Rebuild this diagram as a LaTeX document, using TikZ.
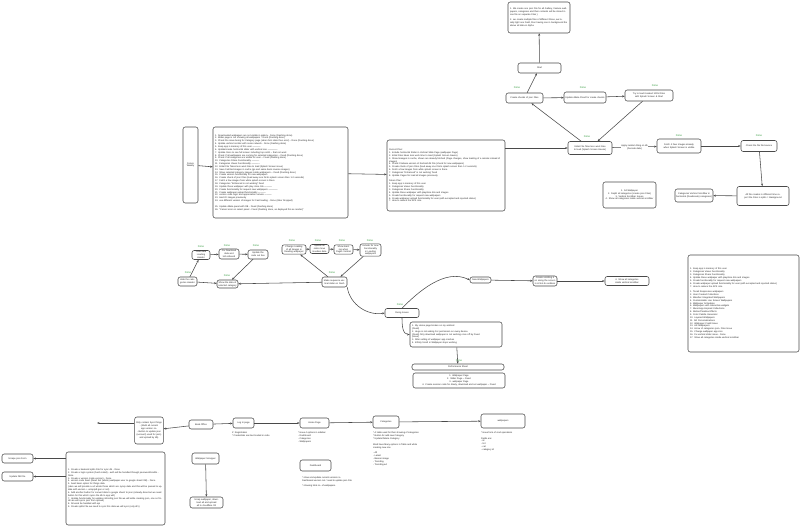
\documentclass[tikz,border=0pt]{standalone}
\usepackage{fontspec}
\setmainfont{Liberation Sans}
\usetikzlibrary{arrows.meta}
\newcommand\mytiny{\fontsize{2.3}{2.85}\selectfont}
\newcommand\mydone{\fontsize{2.6}{2.9}\selectfont}
\definecolor{dgreen}{HTML}{3A9E44}
\definecolor{lgray}{HTML}{4A4A4A}
\tikzset{
 bx/.style={draw=lgray, line width=0.55pt, rounded corners=2.2pt, fill=white, align=center, inner sep=0.8pt, font=\mytiny, text=black!85},
 tb/.style={align=left, inner sep=0pt, font=\mytiny, anchor=north west, text=black!85},
 done/.style={text=dgreen, font=\mydone, inner sep=0pt},
 arr/.style={draw=lgray, line width=0.55pt, -{Stealth[length=2.6pt,width=2pt]}},
}
\begin{document}
\begin{tikzpicture}[x=1pt,y=-1pt]
\useasboundingbox[fill=white] (0,0) rectangle (800,526);
% ---------------- top -----------------
\node[bx, minimum width=62pt, minimum height=31pt, text width=58pt, align=left] (note) at (539,17.5) {1. We create one json File for all Gallery, Feature wallpapers, categories and their contents will be stored in one file on separate Files )\\[2pt] 2. we create multiple files of different those, we locally light one Field, then having one in background the above all data in Alpha};
\node[bx, minimum width=43pt, minimum height=10pt] (start) at (539.5,68) {Start};
\node[bx, minimum width=37pt, minimum height=10pt, text width=35pt] (chunks) at (524.5,98) {Create chunks of json Files};
\node[done] at (517,88) {Done};
\node[bx, minimum width=42pt, minimum height=11pt, text width=40pt] (upd) at (585,97.5) {Update ddata Flood for create chunks};
\node[done] at (583,88) {Done};
\node[bx, minimum width=48pt, minimum height=11pt, text width=46pt] (try) at (649,95.5) {Try to load Kiosked 100M Files with Splash Screen \& Start};
\node[done] at (655,86) {Done};
\node[bx, minimum width=44pt, minimum height=13pt, text width=42pt] (init) at (590,148) {Initial File Take less work time to load (Splash Screen Gauze)};
\node[done] at (587,137) {Done};
\node[bx, minimum width=44pt, minimum height=14pt, text width=42pt] (fetch) at (679,146) {Fetch 4 Few Images already when Splash Screen is visible};
\node[done] at (679,136) {Done};
\node[bx, minimum width=36pt, minimum height=11pt, text width=34pt] (check) at (759,146) {Check the file file bounce};
\node[done] at (759,136) {Done};
\node[bx, minimum width=52pt, minimum height=19pt, text width=50pt] (allfile) at (763,196) {All file creates in different time report the Files is splits = Background};
\node[bx, minimum width=53pt, minimum height=26pt, text width=51pt] (allw) at (629.5,195) {1. All Wallpaper\\ 2. Depth all categories (create json Files)\\ 3. Vertical Scrollbar Issues\\ 4. Show all categories inside vertical scrollbar};
\node[bx, minimum width=38pt, minimum height=13pt, text width=36pt] (catv) at (694,195.5) {Categories Vertical Scrollbar in horizontal (Readonate) categories)};
% ---------------- left blocks -----------------
\node[bx, minimum width=15pt, minimum height=76pt, text width=13pt] (future) at (190.5,165) {Future Weekly};
\node[bx, minimum width=135pt, minimum height=91pt, text width=131pt, align=left] (leftb) at (280.5,172.5) {1. Downloaded wallpapers are not visible in gallery - Done (Dashing done)\\
2. Wider page is not showing all wallpapers - Done (Dashing done)\\
3. Check the issue being for Category page (when font state thus error) - Done (Dashing done)\\
4. Update vertical scroller with some network - Done (Dashing done)\\
5. Keep app is memory of this user -----------\\
6. Update/create horizontal slider with vertical one -------------\\
7. Update Docs to see full screen including top notch -- that not work\\
8. Check if all wallpapers are coming for selected categories -- Fixed (Dashing done)\\
9. Check if all categories are visible for user -- Fixed (Dashing done)\\
10. Categories Share Functionality ----------\\
11. Categories Views Functionality -----------\\
12. Initial File Takes less work time to load (Splash Screen issue)\\
13. Save Fetched images in cache (go and same book reverse images)\\
14. Show selected category images inside wallpapers -- Fixed (Dashing done)\\
15. Create version functionality for new wallpapers\\
16. Create chunk of json Files (load away one Firsts splash screen then 1-2 seconds)\\
17. Fetch a few images from while splash screen is there\\
18. Categories "Enhanced is not working" fixed\\
19. Update those wallpaper with play store link ----------\\
20. Create functionality for request new wallpapers ------------\\
21. Create wallpaper upload functionality ----------\\
22. version code logic and appreciation service ---------\\
23. load 20 images previously\\
24. use different version of images for Fast loading - Done (Uber Dropped)\\[2.8pt]
25. Update ddata panel with DB - Fixed (Dashing done)\\
26. "Cancel error on select panel - Fixed (Dashing done, as deployed this as render)"};
\node[bx, minimum width=118pt, minimum height=71pt, text width=114pt, align=left] (cur) at (446,175.5) {Current Plan:\\
1. Include horizontal Slider in Vertical Slide Page (wallpaper Page)\\
2. Initial Files takes less work time to load (Splash Screen Gauze)\\
3. Show lineages in cache, shows are already fetched (Page changes, show loading of a remote instead of images)\\
4. Check Firebase version of Android db File (check for new wallpapers)\\
5. Create chunk of json Files (load away one Firsts splash screen then 1-2 seconds)\\
6. Fetch a few images from while splash screen is there\\
7. Categories "Enhanced" is not working' fixed\\
8. Update Pages for load all images previously\\[2.8pt]
Future Plan:\\
1. Keep app is memory of this user\\
2. Categories Views Functionality\\
3. Categories Share Functionality\\
4. Update these wallpaper with playstore link and images\\
5. Create functionality for request new wallpapers\\
6. Create wallpaper upload functionality for user (with accepted and rejected status)\\
7. How to reduce the APK size};
% ---------------- right list -----------------
\node[bx, minimum width=111pt, minimum height=97pt, text width=107pt, align=left] (rl) at (743.5,303.5) {1. Keep app is memory of this user\\
2. Categories Views Functionality\\
3. Categories Share Functionality\\
4. Update these wallpaper with playstore link and images\\
5. Create functionality for request new wallpapers\\
6. Create wallpaper upload functionality for user (with accepted and rejected status)\\
7. How to reduce the APK size\\[2.8pt]
1. Tonali Responsive wallpapers\\
2. User Created Collections\\
3. Weather Integrated Wallpapers\\
4. Customizable Live Screen Wallpapers\\
5. Wallpaper Schedules\\
6. Wallpapers with Interactive widgets\\
7. Music/app Inspired Collections\\
8. Motion/Parallax Effects\\
9. Color Palette Generator\\
10. Layered Wallpapers\\
11. AR Personalizations\\
12. Wallpaper Credit Issue\\
13. AR Wallpapers\\
14. Arrow of categories json- Files Issue\\
15. Change wallpaper app icon\\
16. Fix vertical slider issue - Done\\
17. Show all categories inside vertical scrollbar};
% ---------------- middle row -----------------
\node[bx, minimum width=19pt, minimum height=9pt, text width=17pt] (A) at (187.5,281.5) {Hide the categories Header};
\node[done] at (188,273) {Done};
\node[bx, minimum width=18pt, minimum height=8pt, text width=16pt] (B) at (201,255) {Load data Loading Header};
\node[done] at (201,246.5) {Done};
\node[bx, minimum width=20pt, minimum height=10pt, text width=18pt] (C) at (229,254) {Fix Download data and tell onboard};
\node[done] at (227,245.5) {Done};
\node[bx, minimum width=20pt, minimum height=9pt, text width=18pt] (D) at (258,254.5) {Update the code out box};
\node[done] at (256,245.5) {Done};
\node[bx, minimum width=21pt, minimum height=8pt, text width=19pt] (E) at (227.5,284) {Show the data of selected category};
\node[done] at (227,275.5) {Done};
\node[bx, minimum width=24pt, minimum height=9pt, text width=22pt] (F) at (294,249.5) {Change Loading of all Images in Reading wallpaper};
\node[done] at (292,241) {Done};
\node[bx, minimum width=19pt, minimum height=8pt, text width=17pt] (G) at (319.5,249) {Update all code move Hoodies data};
\node[done] at (318,241) {Done};
\node[bx, minimum width=19pt, minimum height=9pt, text width=17pt] (H) at (343.5,249.5) {Show loading when Pages Vertical};
\node[done] at (342,241) {Done};
\node[bx, minimum width=21pt, minimum height=10pt, text width=19pt] (I) at (370.5,250) {Include for new Functionality in Loading wallpapers};
\node[done] at (370,241) {Done};
\node[bx, minimum width=25pt, minimum height=10pt, text width=23pt] (J) at (334.5,282) {Make sequence vertical slider on Dash};
\node[done] at (332,273) {Done};
\node[bx, minimum width=34pt, minimum height=9pt] (K) at (402,313) {Fixing Issues};
\node[done] at (400,305) {Done};
\node[bx, minimum width=21pt, minimum height=6pt] (NW) at (480.5,280) {New Wallpapers};
\node[bx, minimum width=24pt, minimum height=10pt, text width=22pt] (CS) at (545,281) {Create scrolling 4 on along the screen in \& Not do endless};
\node[bx, minimum width=44pt, minimum height=9pt, text width=42pt] (RN) at (627,281) {4. Show all categories inside vertical scrollbar};
\node[bx, minimum width=92pt, minimum height=25pt, text width=88pt, align=left] (fix) at (456,334.5) {1. My Home page broken on my android\\ (Fixed)\\ 2. Hugo is not asking For permission on every device.\\ (Fixed) Only download wallpaper is not working once off by Fixed\\ (issue)\\ 3. After setting of wallpaper app crashes\\ 4. Infinity Scroll in Wallpaper stops working};
\node[done] at (459,361) {Done};
\node[bx, minimum width=92pt, minimum height=6pt] (perf) at (458,367) {Performance Sheet};
\node[bx, minimum width=92pt, minimum height=15pt, text width=88pt] (perfl) at (459,380.5) {1. Wallpaper Page\\ 2. Slider Page -- Fixed\\ 3. wallpaper Page\\ 4. Create session code for 4texty, download and set wallpaper -- Fixed};
% ---------------- bottom -----------------
\node[bx, minimum width=28pt, minimum height=27pt, text width=27pt] (only) at (149,430.5) {Only contain Sync things\\ - (Multi all current app version no.\\ - Button to update json (account) used for json) and upload by db)};
\coordinate (freeL) at (97,423);
\node[bx, minimum width=24pt, minimum height=9pt] (book) at (201,424.5) {Book Office};
\node[bx, minimum width=21pt, minimum height=10pt] (login) at (243.5,423) {Log In page};
\node[tb] at (232,431.5) {\#: Registration\\ * Credentials are hard coded in code};
\node[bx, minimum width=29pt, minimum height=10pt] (home) at (314.5,423) {Home Page};
\node[tb] at (298,432) {* Have 4 options in sidebar\\ - Dashboard\\ - Categories\\ - Wallpapers};
\node[bx, minimum width=26pt, minimum height=12pt] (cat) at (386,422) {Categories};
\node[tb] at (373,432) {* A table used for their showing of categories\\ * Button for add new Category\\ * Update/Delete Category\\[2.8pt] Modi have Many options in Table and while\\ creating new one\\[2.8pt] - All\\ - Latest\\ - Banner image\\ - Trending\\ - Trending ad};
\node[bx, minimum width=44pt, minimum height=14pt] (wall) at (503,421) {wallpapers};
\node[tb] at (481,431.5) {* Have form of crud operations\\[2.8pt] Fields are:\\ - id\\ - Url\\ - cat\\ - category id};
\node[bx, minimum width=31pt, minimum height=11pt] (dash) at (315.5,465.5) {Dashboard};
\node[tb] at (302,476.5) {* show and update current version no.\\ Dashboard version not / need to update json File\\[2.8pt] * showing total no. of wallpapers.};
\node[bx, minimum width=99pt, minimum height=73pt, text width=95pt, align=left] (big) at (115.5,488.5) {1. Create a backend splits File for sync db - Done\\
2. Create a login system (hard coded) - auth will be handled through password/credits - Done\\
3. Create a version (code version) - Done\\
4. version code base (Read Set (whole) wallpaper user to google sheet/ DB) - Done\\
5. Avail basic option for things data\\
(Here we will provide a url whole those which are syncp data and this will be passed to update with version + uniqopdt gen or not)\\
6. Add another button for convert data to google sheet/ to json (already done but we need button for this which syncs the db to app will)\\
7. Update functionality for updates id/config json file we will while creating json, one so finish we will syncs json from upload)\\
8. All work be handled with api\\
9. Create splits File we need to sync this data we will sync (only id's)};
\node[bx, minimum width=31pt, minimum height=9pt] (scrape) at (17.5,458.5) {Scrape json Form};
\node[bx, minimum width=31pt, minimum height=9pt] (updb) at (17.5,476.5) {Update DB File};
\node[bx, minimum width=27pt, minimum height=11pt] (scrapper) at (205.5,458.5) {Wallpaper Scrapper};
\node[bx, minimum width=33pt, minimum height=11pt, text width=31pt] (scrapn) at (206.5,502.5) {Scrap wallpaper, download all and upload all to cloudflare R2};
% ---------------- connectors -----------------
\draw[arr] (start) -- (note);
\draw[arr] (chunks) -- (start);
\draw[arr] (init) -- (chunks);
\draw[arr] (chunks) -- (upd);
\draw[arr] (upd) -- (try);
\draw[arr] (try) -- (init);
\draw[arr] (cur.east |- init) -- (init);
\draw[arr] (init) -- node[midway, fill=white, inner sep=0.3pt, font=\mytiny, text=black!85, align=center] {Apply random thing on db\\ (Decode data)} (fetch);
\draw[arr] (fetch) -- (check);
\draw[arr] (check) -- (allfile);
\draw[arr] (allfile) -- (catv);
\draw[arr] (future) -- (leftb);
\draw[arr] (leftb) -- (cur);
\draw[arr] (A) -- (E);
\draw[arr] (A) -- (B);
\draw[arr] (B) -- (C);
\draw[arr] (C) -- (D);
\draw[arr] (D) -- (E);
\draw[arr] (J) -- (E);
\draw[arr] (J) -- (F);
\draw[arr] (F) -- (G);
\draw[arr] (G) -- (H);
\draw[arr] (H) -- (I);
\draw[arr] (I) -- (J);
\draw[arr] (J.south east) .. controls (350,305) and (368,316) .. (K.west);
\draw[arr] (K.north) .. controls (418,292) and (445,268) .. (NW.west);
\draw[arr] (NW) -- (CS);
\draw[arr] (CS) -- (RN);
\draw[arr] (K.south) to[out=-90,in=180] (fix.west);
\draw[arr] (fix) -- (perf);
\draw[arr] (book) -- (only);
\draw[arr] (only.west |- freeL) -- (freeL);
\draw[arr] (book) -- (login);
\draw[arr] (login) -- (home);
\draw[arr] (home) -- (cat);
\draw[arr] (cat) -- (wall);
\draw[arr] (big.west |- scrape) -- (scrape);
\draw[arr] (big.west |- updb) -- (updb);
\draw[arr] (scrapper) -- (scrapn);
\end{tikzpicture}
\end{document}
